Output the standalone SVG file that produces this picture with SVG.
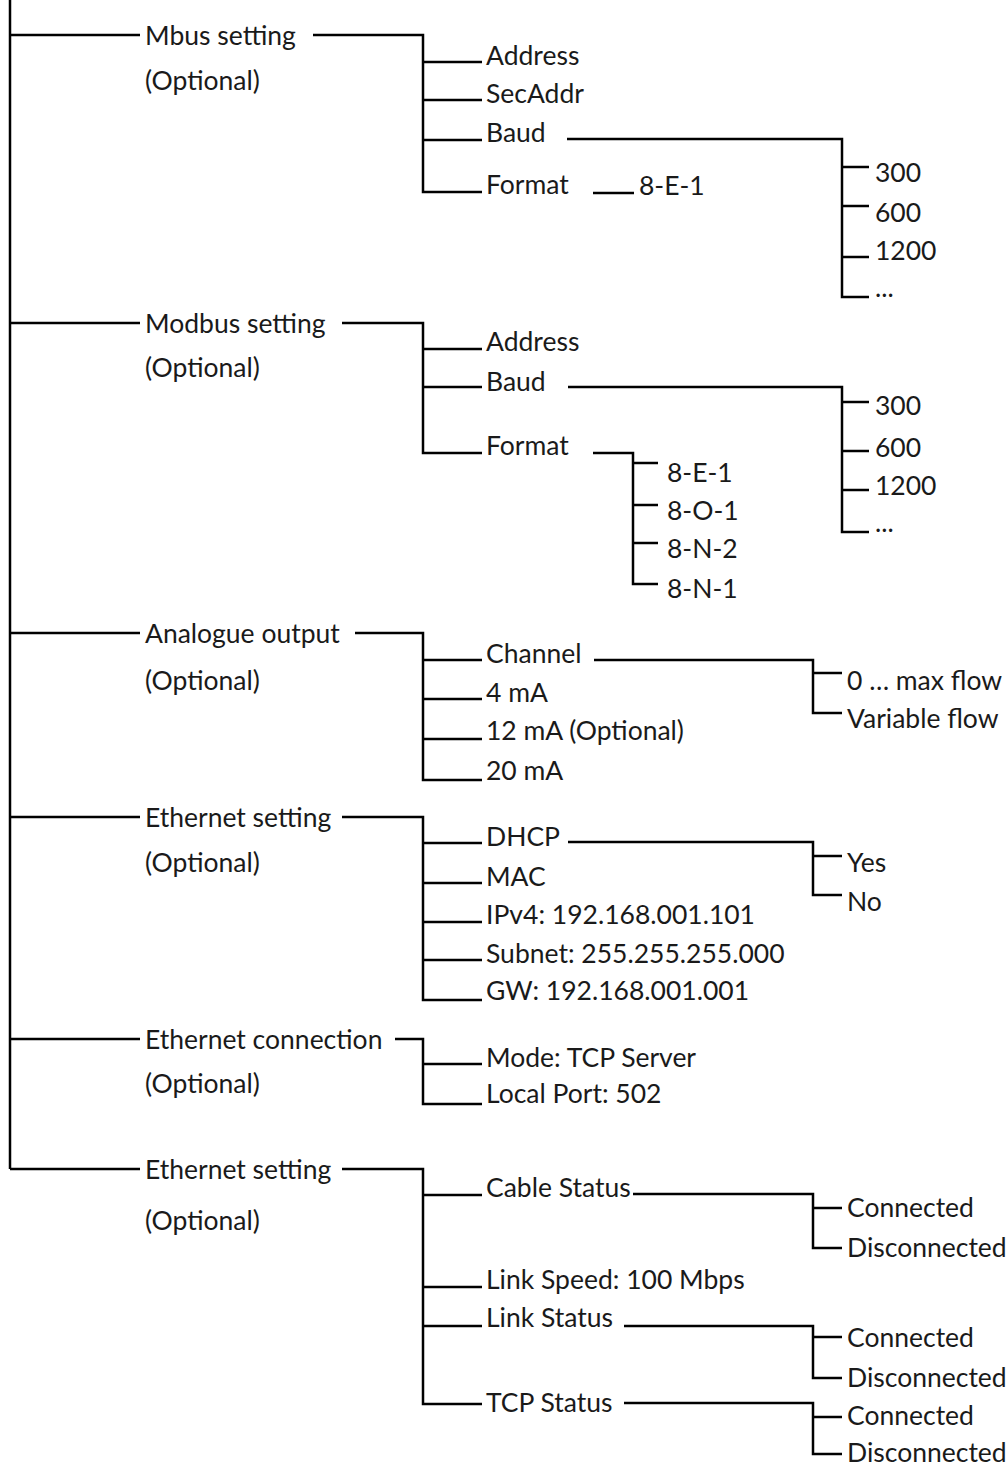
<svg xmlns="http://www.w3.org/2000/svg" width="1008" height="1467" viewBox="0 0 1008 1467">
<style>
  text { font-family: Lato, "Liberation Sans", sans-serif; font-size: 26.5px; fill: #1a1a1a; }
  .c path { fill: none; stroke: #000; stroke-width: 2.5; stroke-linejoin: miter; }
</style>
<rect width="1008" height="1467" fill="#fff"/>
<g class="c" id="connectors">
  <path d="M10,0 V1169"/>
  <path d="M10,35 H140 M10,323 H140 M10,633 H140 M10,817 H140 M10,1039 H140 M10,1169 H140"/>
  <!-- Mbus -->
  <path d="M313,35 H423 V192 H482 M423,62 H482 M423,100 H482 M423,140 H482"/>
  <path d="M567,139 H842 V297 H869 M842,167 H869 M842,206 H869 M842,257 H869"/>
  <path d="M593,193 H634"/>
  <!-- Modbus -->
  <path d="M342,323 H423 V453 H482 M423,349 H482 M423,387 H482"/>
  <path d="M568,387 H842 V532 H869 M842,402 H869 M842,451 H869 M842,490 H869"/>
  <path d="M593,453 H633 V584 H658 M633,463 H658 M633,505 H658 M633,543 H658"/>
  <!-- Analogue -->
  <path d="M355,633 H423 V780 H482 M423,660 H482 M423,699 H482 M423,739 H482"/>
  <path d="M594,660 H813 V713 H842 M813,673 H842"/>
  <!-- Ethernet setting -->
  <path d="M342,817 H423 V1000 H482 M423,843 H482 M423,883 H482 M423,922 H482 M423,960 H482"/>
  <path d="M568,842 H813 V895 H842 M813,856 H842"/>
  <!-- Ethernet connection -->
  <path d="M395,1039 H423 V1104 H482 M423,1064 H482"/>
  <!-- Ethernet setting (status) -->
  <path d="M342,1169 H423 V1404 H482 M423,1195 H482 M423,1287 H482 M423,1326 H482"/>
  <path d="M633,1194 H813 V1248 H842 M813,1208 H842"/>
  <path d="M624,1326 H813 V1378 H842 M813,1337 H842"/>
  <path d="M624,1403 H813 V1454 H842 M813,1417 H842"/>
</g>

<g id="mbus">
  <text x="145" y="45">Mbus setting</text>
  <text x="145" y="90">(Optional)</text>
</g>
<g id="mbus-address"><text x="486" y="65">Address</text></g>
<g id="mbus-secaddr"><text x="486" y="103">SecAddr</text></g>
<g id="mbus-baud"><text x="486" y="142">Baud</text></g>
<g id="mbus-format"><text x="486" y="194">Format</text></g>
<g id="mbus-format-val"><text x="639" y="195">8-E-1</text></g>
<g id="mbus-baud-vals">
  <text x="875" y="182">300</text>
  <text x="875" y="222">600</text>
  <text x="875" y="260">1200</text>
  <text x="875" y="297">...</text>
</g>

<g id="modbus">
  <text x="145" y="333">Modbus setting</text>
  <text x="145" y="377">(Optional)</text>
</g>
<g id="modbus-address"><text x="486" y="351">Address</text></g>
<g id="modbus-baud"><text x="486" y="391">Baud</text></g>
<g id="modbus-format"><text x="486" y="455">Format</text></g>
<g id="modbus-baud-vals">
  <text x="875" y="415">300</text>
  <text x="875" y="457">600</text>
  <text x="875" y="495">1200</text>
  <text x="875" y="532">...</text>
</g>
<g id="modbus-format-vals">
  <text x="667" y="482">8-E-1</text>
  <text x="667" y="520">8-O-1</text>
  <text x="667" y="558">8-N-2</text>
  <text x="667" y="598">8-N-1</text>
</g>

<g id="analogue">
  <text x="145" y="643">Analogue output</text>
  <text x="145" y="690">(Optional)</text>
</g>
<g id="ao-channel"><text x="486" y="663">Channel</text></g>
<g id="ao-4ma"><text x="486" y="702">4 mA</text></g>
<g id="ao-12ma"><text x="486" y="740">12 mA (Optional)</text></g>
<g id="ao-20ma"><text x="486" y="780">20 mA</text></g>
<g id="ao-channel-vals">
  <text x="847" y="690">0 … max flow</text>
  <text x="847" y="728">Variable flow</text>
</g>

<g id="eth-setting">
  <text x="145" y="827">Ethernet setting</text>
  <text x="145" y="872">(Optional)</text>
</g>
<g id="eth-dhcp"><text x="486" y="846">DHCP</text></g>
<g id="eth-mac"><text x="486" y="886">MAC</text></g>
<g id="eth-ipv4"><text x="486" y="924">IPv4: 192.168.001.101</text></g>
<g id="eth-subnet"><text x="486" y="963">Subnet: 255.255.255.000</text></g>
<g id="eth-gw"><text x="486" y="1000">GW: 192.168.001.001</text></g>
<g id="eth-dhcp-vals">
  <text x="847" y="872">Yes</text>
  <text x="847" y="911">No</text>
</g>

<g id="eth-connection">
  <text x="145" y="1049">Ethernet connection</text>
  <text x="145" y="1093">(Optional)</text>
</g>
<g id="eth-mode"><text x="486" y="1067">Mode: TCP Server</text></g>
<g id="eth-port"><text x="486" y="1103">Local Port: 502</text></g>

<g id="eth-status">
  <text x="145" y="1179">Ethernet setting</text>
  <text x="145" y="1230">(Optional)</text>
</g>
<g id="st-cable"><text x="486" y="1197">Cable Status</text></g>
<g id="st-speed"><text x="486" y="1289">Link Speed: 100 Mbps</text></g>
<g id="st-link"><text x="486" y="1327">Link Status</text></g>
<g id="st-tcp"><text x="486" y="1412">TCP Status</text></g>
<g id="st-cable-vals">
  <text x="847" y="1217">Connected</text>
  <text x="847" y="1257">Disconnected</text>
</g>
<g id="st-link-vals">
  <text x="847" y="1347">Connected</text>
  <text x="847" y="1387">Disconnected</text>
</g>
<g id="st-tcp-vals">
  <text x="847" y="1425">Connected</text>
  <text x="847" y="1462">Disconnected</text>
</g>
</svg>
